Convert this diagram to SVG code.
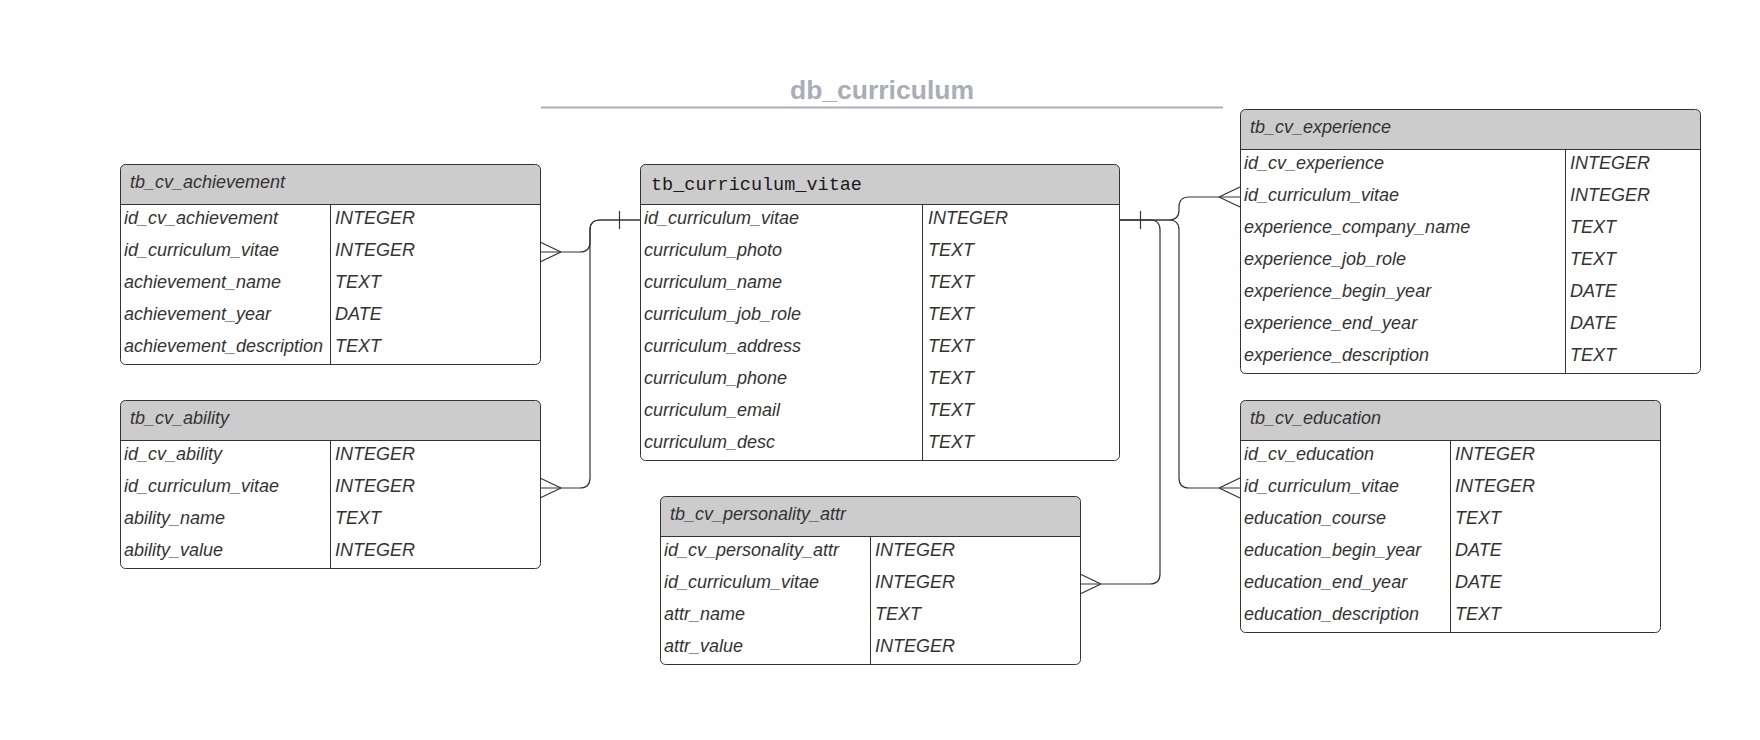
<svg xmlns="http://www.w3.org/2000/svg" width="1760" height="740" viewBox="0 0 1760 740">
<style>
.bg{fill:#ffffff;stroke:none}
.hd{fill:#cccccc;stroke:none}
.ol{fill:none;stroke:#333333;stroke-width:1}
.sep{stroke:#333333;stroke-width:1}
.ht{font-family:"Liberation Sans",Arial,sans-serif;font-size:18px;font-style:italic;fill:#333333}
.hm{font-family:"Liberation Mono","Courier New",monospace;font-size:18.5px;fill:#1a1a1a}
.rt{font-family:"Liberation Sans",Arial,sans-serif;font-size:18px;font-style:italic;fill:#333333}
.cn{fill:none;stroke:#333333;stroke-width:1.2}
.title{font-family:"Liberation Sans",Arial,sans-serif;font-size:26.5px;font-weight:bold;fill:#a9aeb8}
</style>
<rect x="0" y="0" width="1760" height="740" fill="#ffffff"/>
<g id="title">
<text class="title" x="882" y="98.5" text-anchor="middle">db_curriculum</text>
<line x1="541" y1="107.5" x2="1223" y2="107.5" stroke="#a9aeb8" stroke-width="2"/>
</g>
<g id="connectors">
<path class="cn" d="M640,220 H600 Q590,220 590,230 V242 Q590,252 580,252 H540"/>
<path class="cn" d="M561,252 L540,242 M561,252 L540,262"/>
<path class="cn" d="M640,220 H600 Q590,220 590,230 V478 Q590,488 580,488 H540"/>
<path class="cn" d="M561,488 L540,478 M561,488 L540,498"/>
<path class="cn" d="M619.5,211 V229"/>
<path class="cn" d="M1120,220 H1169 Q1179,220 1179,210 V207 Q1179,197 1189,197 H1240"/>
<path class="cn" d="M1219,197 L1240,187 M1219,197 L1240,207"/>
<path class="cn" d="M1120,220 H1169 Q1179,220 1179,230 V478 Q1179,488 1189,488 H1240"/>
<path class="cn" d="M1219,488 L1240,478 M1219,488 L1240,498"/>
<path class="cn" d="M1120,220 H1150 Q1160,220 1160,230 V574 Q1160,584 1150,584 H1080"/>
<path class="cn" d="M1101,584 L1080,574 M1101,584 L1080,594"/>
<path class="cn" d="M1140.5,211 V229"/>
</g>
<g id="tb_cv_achievement">
<rect class="bg" x="120.5" y="164.5" width="420" height="200" rx="5"/>
<path class="hd" d="M120.5,204.5 V169.5 A5,5 0 0 1 125.5,164.5 H535.5 A5,5 0 0 1 540.5,169.5 V204.5 Z"/>
<rect class="ol" x="120.5" y="164.5" width="420" height="200" rx="5"/>
<line class="sep" x1="120.5" y1="204.5" x2="540.5" y2="204.5"/>
<line class="sep" x1="330.5" y1="204.5" x2="330.5" y2="364.5"/>
<text class="ht" x="130" y="188">tb_cv_achievement</text>
<text class="rt" x="124" y="223.5">id_cv_achievement</text><text class="rt" x="335" y="223.5">INTEGER</text>
<text class="rt" x="124" y="255.5">id_curriculum_vitae</text><text class="rt" x="335" y="255.5">INTEGER</text>
<text class="rt" x="124" y="287.5">achievement_name</text><text class="rt" x="335" y="287.5">TEXT</text>
<text class="rt" x="124" y="319.5">achievement_year</text><text class="rt" x="335" y="319.5">DATE</text>
<text class="rt" x="124" y="351.5">achievement_description</text><text class="rt" x="335" y="351.5">TEXT</text>
</g>
<g id="tb_cv_ability">
<rect class="bg" x="120.5" y="400.5" width="420" height="168" rx="5"/>
<path class="hd" d="M120.5,440.5 V405.5 A5,5 0 0 1 125.5,400.5 H535.5 A5,5 0 0 1 540.5,405.5 V440.5 Z"/>
<rect class="ol" x="120.5" y="400.5" width="420" height="168" rx="5"/>
<line class="sep" x1="120.5" y1="440.5" x2="540.5" y2="440.5"/>
<line class="sep" x1="330.5" y1="440.5" x2="330.5" y2="568.5"/>
<text class="ht" x="130" y="424">tb_cv_ability</text>
<text class="rt" x="124" y="459.5">id_cv_ability</text><text class="rt" x="335" y="459.5">INTEGER</text>
<text class="rt" x="124" y="491.5">id_curriculum_vitae</text><text class="rt" x="335" y="491.5">INTEGER</text>
<text class="rt" x="124" y="523.5">ability_name</text><text class="rt" x="335" y="523.5">TEXT</text>
<text class="rt" x="124" y="555.5">ability_value</text><text class="rt" x="335" y="555.5">INTEGER</text>
</g>
<g id="tb_curriculum_vitae">
<rect class="bg" x="640.5" y="164.5" width="479" height="296" rx="5"/>
<path class="hd" d="M640.5,204.5 V169.5 A5,5 0 0 1 645.5,164.5 H1114.5 A5,5 0 0 1 1119.5,169.5 V204.5 Z"/>
<rect class="ol" x="640.5" y="164.5" width="479" height="296" rx="5"/>
<line class="sep" x1="640.5" y1="204.5" x2="1119.5" y2="204.5"/>
<line class="sep" x1="922.5" y1="204.5" x2="922.5" y2="460.5"/>
<text class="hm" x="651" y="190">tb_curriculum_vitae</text>
<text class="rt" x="644" y="223.5">id_curriculum_vitae</text><text class="rt" x="928" y="223.5">INTEGER</text>
<text class="rt" x="644" y="255.5">curriculum_photo</text><text class="rt" x="928" y="255.5">TEXT</text>
<text class="rt" x="644" y="287.5">curriculum_name</text><text class="rt" x="928" y="287.5">TEXT</text>
<text class="rt" x="644" y="319.5">curriculum_job_role</text><text class="rt" x="928" y="319.5">TEXT</text>
<text class="rt" x="644" y="351.5">curriculum_address</text><text class="rt" x="928" y="351.5">TEXT</text>
<text class="rt" x="644" y="383.5">curriculum_phone</text><text class="rt" x="928" y="383.5">TEXT</text>
<text class="rt" x="644" y="415.5">curriculum_email</text><text class="rt" x="928" y="415.5">TEXT</text>
<text class="rt" x="644" y="447.5">curriculum_desc</text><text class="rt" x="928" y="447.5">TEXT</text>
</g>
<g id="tb_cv_personality_attr">
<rect class="bg" x="660.5" y="496.5" width="420" height="168" rx="5"/>
<path class="hd" d="M660.5,536.5 V501.5 A5,5 0 0 1 665.5,496.5 H1075.5 A5,5 0 0 1 1080.5,501.5 V536.5 Z"/>
<rect class="ol" x="660.5" y="496.5" width="420" height="168" rx="5"/>
<line class="sep" x1="660.5" y1="536.5" x2="1080.5" y2="536.5"/>
<line class="sep" x1="870.5" y1="536.5" x2="870.5" y2="664.5"/>
<text class="ht" x="670" y="520">tb_cv_personality_attr</text>
<text class="rt" x="664" y="555.5">id_cv_personality_attr</text><text class="rt" x="875" y="555.5">INTEGER</text>
<text class="rt" x="664" y="587.5">id_curriculum_vitae</text><text class="rt" x="875" y="587.5">INTEGER</text>
<text class="rt" x="664" y="619.5">attr_name</text><text class="rt" x="875" y="619.5">TEXT</text>
<text class="rt" x="664" y="651.5">attr_value</text><text class="rt" x="875" y="651.5">INTEGER</text>
</g>
<g id="tb_cv_experience">
<rect class="bg" x="1240.5" y="109.5" width="460" height="264" rx="5"/>
<path class="hd" d="M1240.5,149.5 V114.5 A5,5 0 0 1 1245.5,109.5 H1695.5 A5,5 0 0 1 1700.5,114.5 V149.5 Z"/>
<rect class="ol" x="1240.5" y="109.5" width="460" height="264" rx="5"/>
<line class="sep" x1="1240.5" y1="149.5" x2="1700.5" y2="149.5"/>
<line class="sep" x1="1565.5" y1="149.5" x2="1565.5" y2="373.5"/>
<text class="ht" x="1250" y="133">tb_cv_experience</text>
<text class="rt" x="1244" y="168.5">id_cv_experience</text><text class="rt" x="1570" y="168.5">INTEGER</text>
<text class="rt" x="1244" y="200.5">id_curriculum_vitae</text><text class="rt" x="1570" y="200.5">INTEGER</text>
<text class="rt" x="1244" y="232.5">experience_company_name</text><text class="rt" x="1570" y="232.5">TEXT</text>
<text class="rt" x="1244" y="264.5">experience_job_role</text><text class="rt" x="1570" y="264.5">TEXT</text>
<text class="rt" x="1244" y="296.5">experience_begin_year</text><text class="rt" x="1570" y="296.5">DATE</text>
<text class="rt" x="1244" y="328.5">experience_end_year</text><text class="rt" x="1570" y="328.5">DATE</text>
<text class="rt" x="1244" y="360.5">experience_description</text><text class="rt" x="1570" y="360.5">TEXT</text>
</g>
<g id="tb_cv_education">
<rect class="bg" x="1240.5" y="400.5" width="420" height="232" rx="5"/>
<path class="hd" d="M1240.5,440.5 V405.5 A5,5 0 0 1 1245.5,400.5 H1655.5 A5,5 0 0 1 1660.5,405.5 V440.5 Z"/>
<rect class="ol" x="1240.5" y="400.5" width="420" height="232" rx="5"/>
<line class="sep" x1="1240.5" y1="440.5" x2="1660.5" y2="440.5"/>
<line class="sep" x1="1450.5" y1="440.5" x2="1450.5" y2="632.5"/>
<text class="ht" x="1250" y="424">tb_cv_education</text>
<text class="rt" x="1244" y="459.5">id_cv_education</text><text class="rt" x="1455" y="459.5">INTEGER</text>
<text class="rt" x="1244" y="491.5">id_curriculum_vitae</text><text class="rt" x="1455" y="491.5">INTEGER</text>
<text class="rt" x="1244" y="523.5">education_course</text><text class="rt" x="1455" y="523.5">TEXT</text>
<text class="rt" x="1244" y="555.5">education_begin_year</text><text class="rt" x="1455" y="555.5">DATE</text>
<text class="rt" x="1244" y="587.5">education_end_year</text><text class="rt" x="1455" y="587.5">DATE</text>
<text class="rt" x="1244" y="619.5">education_description</text><text class="rt" x="1455" y="619.5">TEXT</text>
</g>
</svg>
